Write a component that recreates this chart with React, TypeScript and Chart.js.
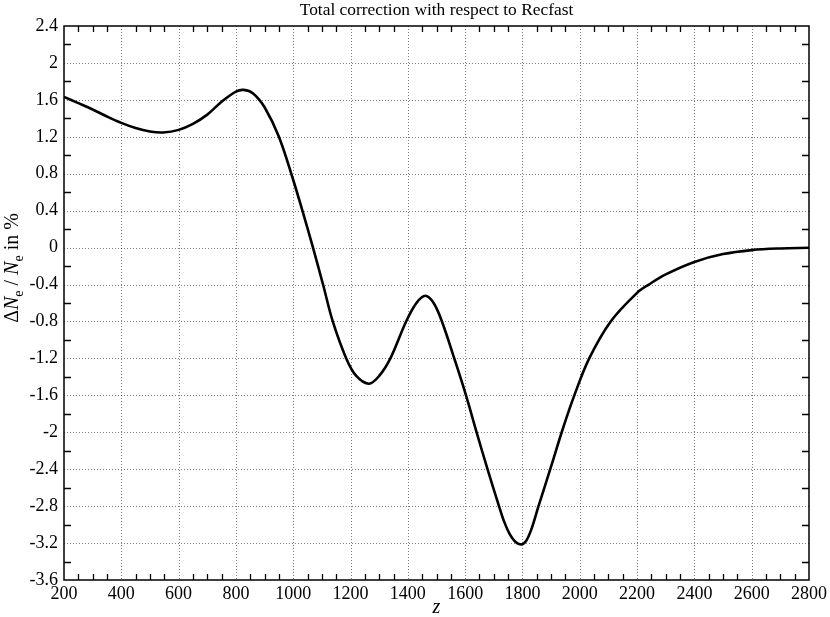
import React, { useEffect, useRef } from "react";
import { Chart, registerables } from "chart.js";

Chart.register(...registerables);

// Redshift z
const zValues = [
  200, 250, 300, 350, 400, 450, 500, 546, 600, 650, 700, 750, 800, 827, 860,
  900, 950, 1000, 1032, 1069, 1104, 1138, 1185, 1220, 1264, 1300, 1339, 1394,
  1430, 1461, 1490, 1519, 1562, 1603, 1640, 1678, 1717, 1735, 1755, 1775, 1795,
  1812, 1830, 1856, 1900, 1940, 1981, 2033, 2108, 2200, 2241, 2300, 2400, 2500,
  2600, 2700, 2800,
];

// Delta N_e / N_e in %
const deltaNe = [
  1.632, 1.565, 1.496, 1.42, 1.351, 1.295, 1.257, 1.247, 1.275, 1.34, 1.44,
  1.58, 1.69, 1.708, 1.67, 1.52, 1.2, 0.732, 0.4, 0.0, -0.4, -0.8, -1.2, -1.39,
  -1.474, -1.39, -1.2, -0.8, -0.6, -0.522, -0.6, -0.8, -1.2, -1.6, -2.0, -2.4,
  -2.79, -2.96, -3.1, -3.185, -3.215, -3.18, -3.06, -2.8, -2.37, -1.97, -1.6,
  -1.2, -0.8, -0.49, -0.4, -0.29, -0.155, -0.07, -0.027, -0.009, -0.002,
];

const xRange = [200, 2800];
const yRange = [-3.6, 2.4];
const xMajorStep = 200;
const xMinorStep = 50;
const yMajorStep = 0.4;
const yMinorStep = 0.2;

const titleText = "Total correction with respect to Recfast";
const xAxisLabel = "z";

const SERIF = "'Liberation Serif', 'DejaVu Serif', serif";

const framePlugin = {
  id: "framePlugin",
  beforeDraw(chart: any) {
    const { ctx, width, height } = chart;
    ctx.save();
    ctx.fillStyle = "#fff";
    ctx.fillRect(0, 0, width, height);
    ctx.restore();
  },
  beforeDatasetsDraw(chart: any) {
    const { ctx, chartArea: a, scales } = chart;
    const xs = scales.x;
    const ys = scales.y;
    ctx.save();
    ctx.strokeStyle = "rgba(0,0,0,0.5)";
    ctx.lineWidth = 1;
    ctx.setLineDash([1, 2]);
    const nx = Math.round((xs.max - xs.min) / xMajorStep);
    for (let i = 1; i < nx; i++) {
      const px = Math.round(xs.getPixelForValue(xs.min + i * xMajorStep)) + 0.5;
      ctx.beginPath();
      ctx.moveTo(px, a.top);
      ctx.lineTo(px, a.bottom);
      ctx.stroke();
    }
    const ny = Math.round((ys.max - ys.min) / yMajorStep);
    for (let i = 1; i < ny; i++) {
      const py = Math.round(ys.getPixelForValue(ys.min + i * yMajorStep)) + 0.5;
      ctx.beginPath();
      ctx.moveTo(a.left, py);
      ctx.lineTo(a.right, py);
      ctx.stroke();
    }
    ctx.restore();
  },
  afterDraw(chart: any) {
    const { ctx, chartArea: a, scales } = chart;
    const xs = scales.x;
    const ys = scales.y;
    ctx.save();
    // frame
    ctx.strokeStyle = "#000";
    ctx.lineWidth = 1.5;
    ctx.strokeRect(a.left, a.top, a.right - a.left, a.bottom - a.top);
    // minor ticks
    ctx.lineWidth = 1.3;
    const ratioX = Math.round(xMajorStep / xMinorStep);
    const nxm = Math.round((xs.max - xs.min) / xMinorStep);
    for (let i = 1; i < nxm; i++) {
      if (i % ratioX === 0) continue;
      const px = Math.round(xs.getPixelForValue(xs.min + i * xMinorStep)) + 0.5;
      ctx.beginPath();
      ctx.moveTo(px, a.bottom);
      ctx.lineTo(px, a.bottom - 6);
      ctx.moveTo(px, a.top);
      ctx.lineTo(px, a.top + 6);
      ctx.stroke();
    }
    const ratioY = Math.round(yMajorStep / yMinorStep);
    const nym = Math.round((ys.max - ys.min) / yMinorStep);
    for (let i = 1; i < nym; i++) {
      if (i % ratioY === 0) continue;
      const py = Math.round(ys.getPixelForValue(ys.min + i * yMinorStep)) + 0.5;
      ctx.beginPath();
      ctx.moveTo(a.left, py);
      ctx.lineTo(a.left + 7, py);
      ctx.moveTo(a.right, py);
      ctx.lineTo(a.right - 7, py);
      ctx.stroke();
    }
    // title
    ctx.fillStyle = "#000";
    ctx.font = `17.4px ${SERIF}`;
    ctx.textAlign = "center";
    ctx.textBaseline = "alphabetic";
    ctx.fillText(titleText, (a.left + a.right) / 2, 15);
    // x-axis label
    ctx.font = `italic 20px ${SERIF}`;
    ctx.fillText(xAxisLabel, (a.left + a.right) / 2, 613);
    // y-axis label with subscripts
    const pieces = [
      { t: "\u0394", f: `20px ${SERIF}`, dy: 0 },
      { t: "N", f: `italic 20px ${SERIF}`, dy: 0 },
      { t: "e", f: `14px ${SERIF}`, dy: 5 },
      { t: " / ", f: `20px ${SERIF}`, dy: 0 },
      { t: "N", f: `italic 20px ${SERIF}`, dy: 0 },
      { t: "e", f: `14px ${SERIF}`, dy: 5 },
      { t: " in %", f: `20px ${SERIF}`, dy: 0 },
    ];
    let total = 0;
    const widths = pieces.map((p) => {
      ctx.font = p.f;
      const w = ctx.measureText(p.t).width;
      total += w;
      return w;
    });
    ctx.translate(18, 268);
    ctx.rotate(-Math.PI / 2);
    ctx.textAlign = "left";
    let cx = -total / 2;
    pieces.forEach((p, i) => {
      ctx.font = p.f;
      ctx.fillText(p.t, cx, p.dy);
      cx += widths[i];
    });
    ctx.restore();
  },
};

export default function App() {
  const canvasRef = useRef<HTMLCanvasElement | null>(null);

  useEffect(() => {
    const canvas = canvasRef.current;
    if (!canvas) return;
    const data = zValues.map((z, i) => ({ x: z, y: deltaNe[i] }));
    const chart = new Chart(canvas, {
      type: "line",
      data: {
        datasets: [
          {
            data,
            borderColor: "#000",
            borderWidth: 2.6,
            pointRadius: 0,
            fill: false,
            tension: 0.35,
          },
        ],
      },
      options: {
        responsive: false,
        animation: false,
        events: [],
        layout: { padding: { top: 26, right: 18, left: 0, bottom: 0 } },
        plugins: {
          legend: { display: false },
          title: { display: false },
          tooltip: { enabled: false },
        },
        scales: {
          x: {
            type: "linear",
            min: xRange[0],
            max: xRange[1],
            ticks: {
              stepSize: xMajorStep,
              autoSkip: false,
              maxRotation: 0,
              padding: 3,
              color: "#000",
              font: { family: SERIF, size: 18 },
              callback: (v: any) => String(Math.round(Number(v))),
            },
            grid: { display: false, drawTicks: false, tickLength: 0 },
            border: { display: false },
            afterFit: (s: any) => {
              s.height = 37;
            },
          },
          y: {
            type: "linear",
            min: yRange[0],
            max: yRange[1],
            ticks: {
              stepSize: yMajorStep,
              autoSkip: false,
              padding: 6,
              color: "#000",
              font: { family: SERIF, size: 18 },
              callback: (v: any) => String(Math.round(Number(v) * 10) / 10),
            },
            grid: { display: false, drawTicks: false, tickLength: 0 },
            border: { display: false },
            afterFit: (s: any) => {
              s.width = 64;
            },
          },
        },
      },
      plugins: [framePlugin],
    } as any);
    return () => chart.destroy();
  }, []);

  return (
    <canvas
      ref={canvasRef}
      width={830}
      height={617}
      style={{ position: "fixed", left: 0, top: 0, width: 830, height: 617 }}
    />
  );
}
